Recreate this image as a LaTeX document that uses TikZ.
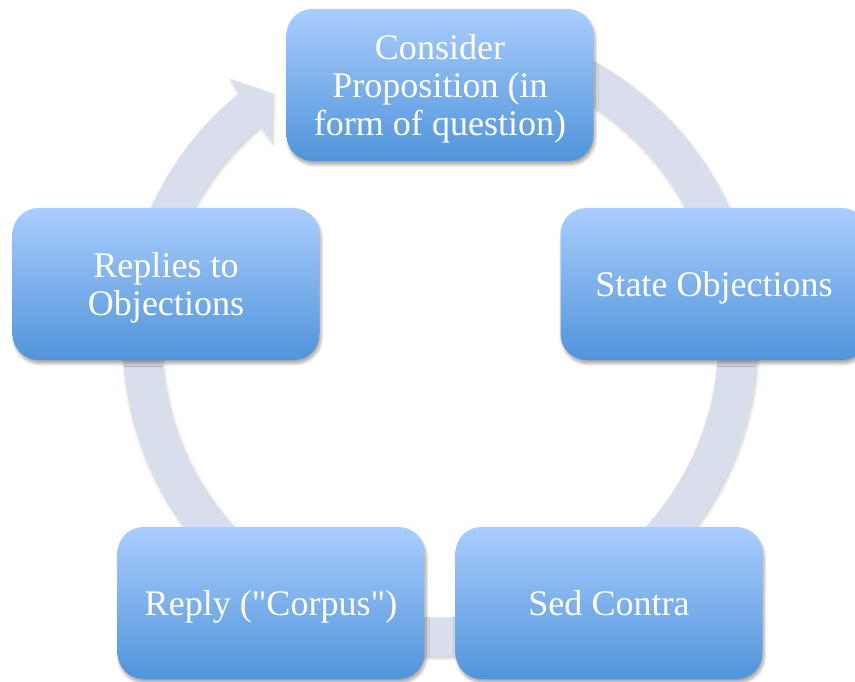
\documentclass[tikz,border=0pt]{standalone}
\usepackage{fontspec}
\newfontfamily\boxfont{Liberation Serif}
\usepackage{tikz}
\usetikzlibrary{shadows.blur}

\definecolor{boxtop}{RGB}{170,205,253}
\definecolor{boxbot}{RGB}{80,148,218}
\definecolor{ringgray}{RGB}{217,222,237}

\begin{document}
\begin{tikzpicture}[
  stage/.style={rounded corners=0.52cm,minimum width=6.14cm,minimum height=3.04cm,
    inner sep=0pt,top color=boxtop,bottom color=boxbot,text=white,align=center,
    text depth=0pt,font=\boxfont\fontsize{20.5}{21.6}\selectfont,
    blur shadow={shadow xshift=0.03cm,shadow yshift=-0.07cm,shadow blur steps=6,shadow opacity=35}},
  ring/.style={fill=ringgray,
    blur shadow={shadow xshift=0.02cm,shadow yshift=-0.04cm,shadow blur steps=4,shadow opacity=20}}]
\useasboundingbox (0,0) rectangle (17.1,13.62);

% cycle arrow behind the boxes
\begin{scope}[shift={(8.8,6.84)}]
\fill[ring] (100:6.35) arc[start angle=100,end angle=-230.7,radius=6.35]
  -- (-231.1:6.68) -- (-235.8:5.94) -- (-229.55:5.18) -- (-229.9:5.57)
  arc[start angle=-229.9,end angle=100,radius=5.57] -- cycle;
\end{scope}

\node[stage] (n0) at (8.8,11.92) {Consider\\Proposition (in\\form of question)};
\node[stage] (n1) at (14.28,7.94) {State Objections};
\node[stage] (n2) at (12.18,1.56) {Sed Contra};
\node[stage] (n3) at (5.42,1.56) {Reply ("Corpus")};
\node[stage] (n4) at (3.32,7.94) {Replies to\\Objections};
\end{tikzpicture}
\end{document}
